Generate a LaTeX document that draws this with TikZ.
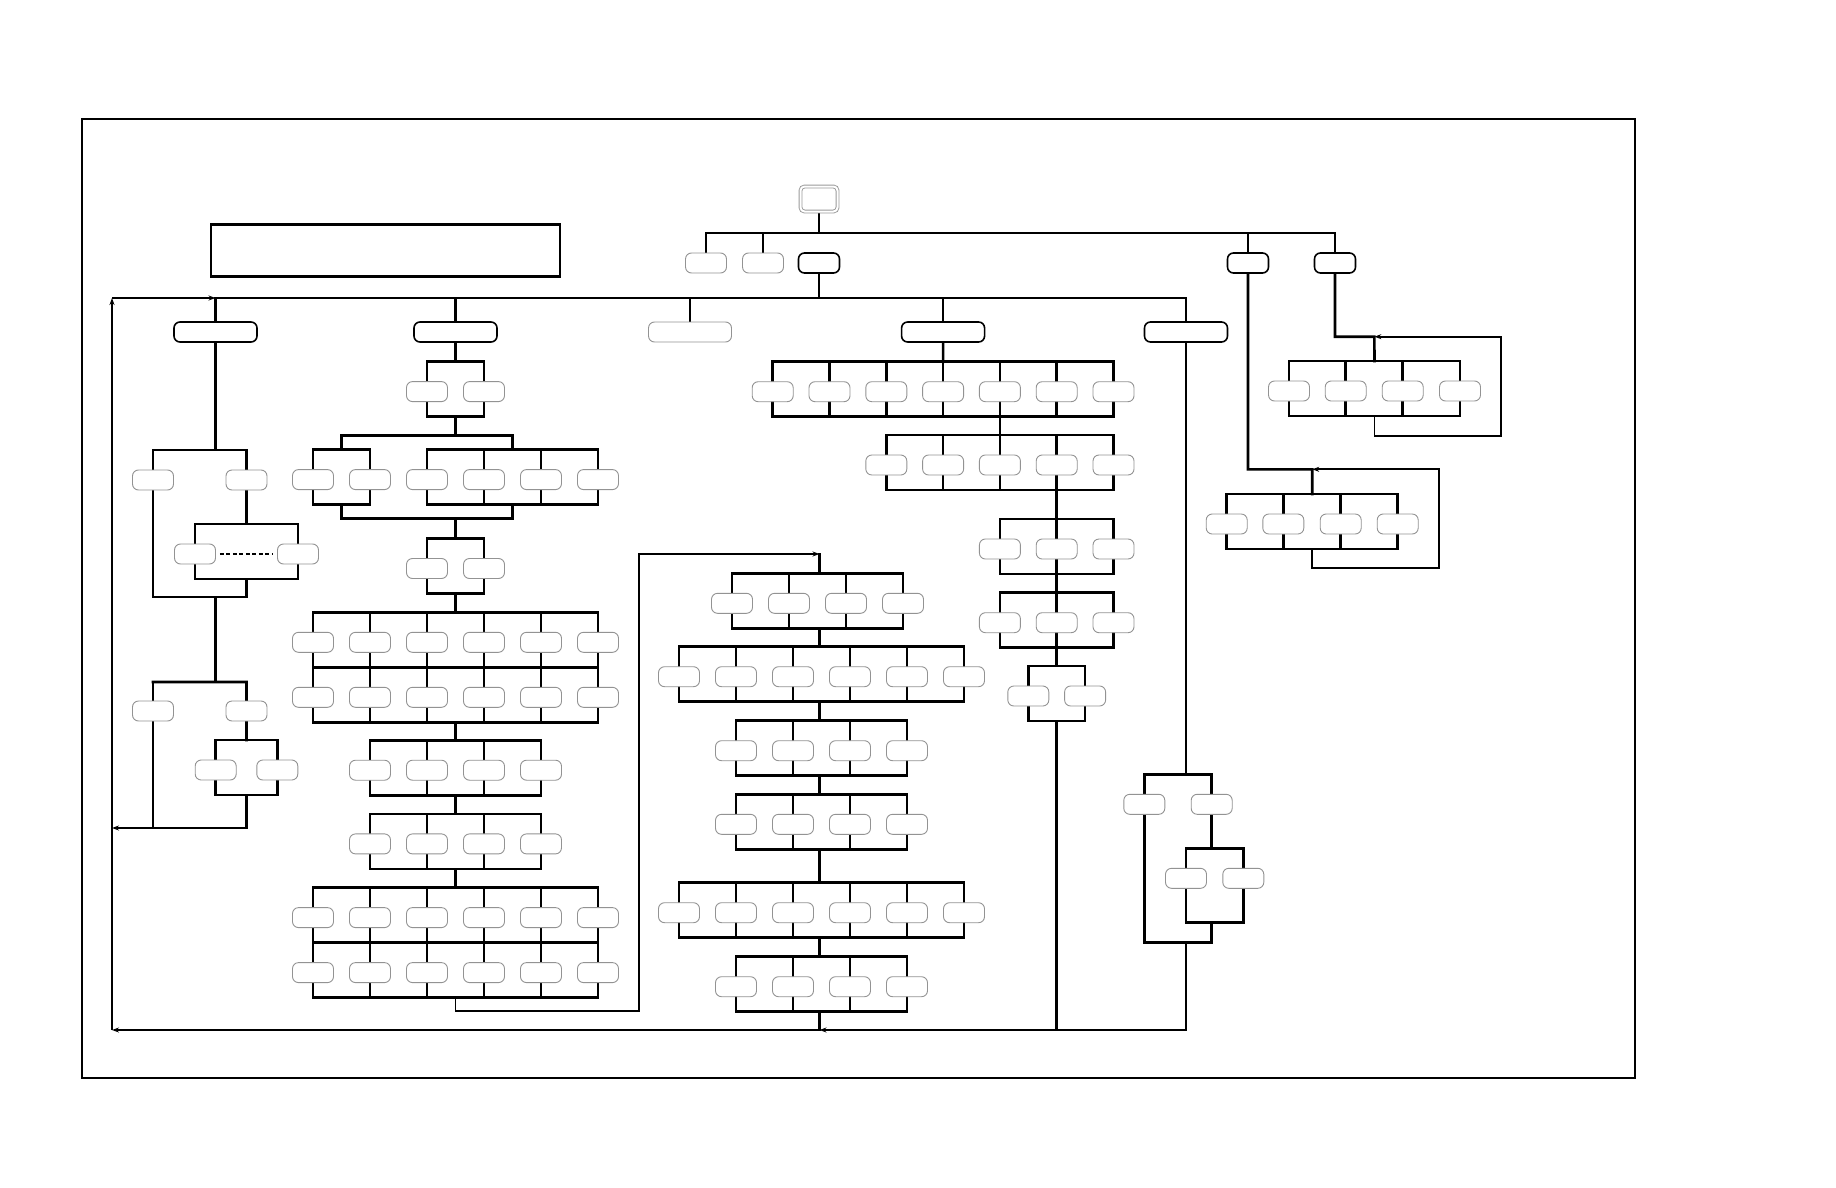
\documentclass[tikz,border=0pt]{standalone}
\usetikzlibrary{positioning,calc,backgrounds,arrows.meta}

\tikzset{
  key/.style={draw=gray!85, line width=0.9pt, fill=white, rounded corners=6pt, minimum width=41pt, minimum height=20pt, inner sep=0pt},
  menu/.style={key, draw=black, line width=1.6pt},
  wide/.style={menu, minimum width=83pt},
  bus/.style={line width=2.6pt, line cap=rect},
  back/.style={line width=1.8pt},
  tip/.style={-{Stealth[length=7pt,width=5pt]}},
}

% a row of keys: prefix, y, x list
\newcommand\keyrow[3]{\foreach \x [count=\i] in {#3} {\node[key] (#1\i) at (\x,#2) {};}}
% frame round a row of keys: prefix, number of keys
\newcommand\keyframe[2]{%
  \draw[bus] ($(#11)+(0,-30)$) -- ($(#1#2)+(0,-30)$);
  \draw[bus] ($(#11)+(0,25)$) -- ($(#1#2)+(0,25)$);
  \foreach \i in {1,...,#2} {\draw[bus] ($(#1\i)+(0,-30)$) -- ($(#1\i)+(0,25)$);}
  \coordinate (#1t) at ($(#11)!.5!(#1#2)+(0,-30)$);
  \coordinate (#1b) at ($(#11)!.5!(#1#2)+(0,25)$);
}

\begin{document}
\begin{tikzpicture}[x=1pt,y=-1pt]
  \useasboundingbox (0,0) rectangle (1836,1188);
  \draw[line width=2.2pt] (82,119) rectangle (1635,1078);

  \node[draw, line width=2.2pt, minimum width=349pt, minimum height=52pt, inner sep=0pt] (note) at (385.5,250.5) {};
  \node[draw=gray!80, double=white, double distance=2pt, line width=0.9pt, rounded corners=4pt,
        minimum width=37pt, minimum height=25pt, fill=white] (top) at (819,199) {};

  % main menu
  \node[key]  (u1) at (706,263) {};
  \node[key]  (u2) at (763,263) {};
  \node[menu] (u3) at (819,263) {};
  \node[menu] (u4) at (1248,263) {};
  \node[menu] (u5) at (1335,263) {};
  \node[wide] (w1) at (215.5,332) {};
  \node[wide] (w2) at (455.5,332) {};
  \node[wide, draw=gray!85, line width=0.9pt] (w3) at (690,332) {};
  \node[wide] (w4) at (943.1,332) {};
  \node[wide] (w5) at (1186,332) {};

  % first column
  \keyrow{a}{480}{153,246.5}
  \keyrow{ad}{554}{195,298}
  \keyrow{ae}{711}{153,246.5}
  \keyrow{af}{770}{215.7,277.3}

  % second column
  \keyrow{pa}{391.6}{427,484}
  \keyrow{qa}{479.6}{313,370}
  \keyrow{qb}{479.6}{427,484,541,598}
  \keyrow{pb}{568.5}{427,484}
  \keyrow{ga}{642.3}{313,370,427,484,541,598}
  \keyrow{gb}{697.3}{313,370,427,484,541,598}
  \keyrow{gc}{770.2}{370,427,484,541}
  \keyrow{gd}{843.9}{370,427,484,541}
  \keyrow{ge}{917.6}{313,370,427,484,541,598}
  \keyrow{gf}{972.6}{313,370,427,484,541,598}

  % third column
  \keyrow{ha}{603.3}{732,789,846,903}
  \keyrow{hb}{676.7}{679,736,793,850,907,964}
  \keyrow{hc}{750.7}{736,793,850,907}
  \keyrow{hd}{824.3}{736,793,850,907}
  \keyrow{he}{912.7}{679,736,793,850,907,964}
  \keyrow{hf}{986.7}{736,793,850,907}

  % fourth column
  \keyrow{ka}{391.7}{772.7,829.5,886.3,943.1,999.9,1056.7,1113.5}
  \keyrow{kb}{465}{886.3,943.1,999.9,1056.7,1113.5}
  \keyrow{kc}{549}{999.9,1056.7,1113.5}
  \keyrow{kd}{622.7}{999.9,1056.7,1113.5}
  \keyrow{ke}{696}{1028.3,1085.1}

  % fifth column
  \keyrow{ma}{804.3}{1144.3,1211.7}
  \keyrow{mb}{878.3}{1186,1243.3}

  % right hand side
  \keyrow{ra}{391}{1289,1345.7,1402.7,1460}
  \keyrow{rb}{524}{1226.7,1283.3,1340.7,1397.7}

  \coordinate (t1) at (819,233);
  \coordinate (l1) at (215.5,450);
  \coordinate (l2) at (215.5,597);
  \coordinate (l3) at (215.5,682);
  \coordinate (l4) at (112,828);
  \coordinate (l5) at (112,1030);
  \coordinate (l6) at (112,298);
  \coordinate (l7) at (215.5,298);
  \coordinate (m1) at (455.5,435.4);
  \coordinate (m2) at (455.5,518.7);
  \coordinate (k1) at (455.5,1011.3);
  \coordinate (k2) at (639,554);
  \coordinate (k3) at (819.5,554);
  \coordinate (k4) at (819.5,1030);
  \coordinate (k5) at (1056.7,1030);
  \coordinate (n1) at (1186,774.3);
  \coordinate (n2) at (1186,942.7);
  \coordinate (n3) at (1186,1030);
  \coordinate (n4) at (1211.7,848.7);
  \coordinate (n5) at (1211.7,922.7);
  \coordinate (r1) at (1374.35,336.7);
  \coordinate (r2) at (1501,435.7);
  \coordinate (r3) at (1312.2,469.3);
  \coordinate (r4) at (1439,568.3);

  \begin{pgfonlayer}{background}
    \keyframe{ad}{2} \keyframe{af}{2}
    \keyframe{pa}{2} \keyframe{qa}{2} \keyframe{qb}{4} \keyframe{pb}{2}
    \keyframe{ga}{6} \keyframe{gb}{6} \keyframe{gc}{4} \keyframe{gd}{4}
    \keyframe{ge}{6} \keyframe{gf}{6}
    \keyframe{ha}{4} \keyframe{hb}{6} \keyframe{hc}{4} \keyframe{hd}{4}
    \keyframe{he}{6} \keyframe{hf}{4}
    \keyframe{ka}{7} \keyframe{kb}{5} \keyframe{kc}{3} \keyframe{kd}{3} \keyframe{ke}{2}
    \keyframe{ra}{4} \keyframe{rb}{4}

    \draw[bus] (top) -- (t1);
    \draw[bus] (u1 |- t1) -- (u5 |- t1);
    \foreach \n in {u1,u2,u4,u5} {\draw[bus] (\n) -- (\n |- t1);}
    \draw[bus] (u3) -- (u3 |- l7);
    \draw[bus] (l7) -- (w5 |- l7);
    \foreach \n in {w1,w2,w3,w4,w5} {\draw[bus] (\n) -- (\n |- l7);}

    \draw[bus] (w1) -- (l1);
    \draw[bus] (a1 |- l1) -- (a2 |- l1) -- (adt);
    \draw[bus] (a1 |- l1) -- (a1 |- l2) -- (a2 |- l2) -- (adb);
    \draw[line width=1.6pt, dash pattern=on 4pt off 2.5pt, shorten <=4pt, shorten >=4pt] (ad1) -- (ad2);
    \draw[bus] (l2) -- (l3);
    \draw[bus] (ae1 |- l3) -- (ae2 |- l3) -- (aft);
    \draw[bus] (ae1 |- l3) -- (ae1 |- l4);
    \draw[bus,tip] (afb) -- (afb |- l4) -- (l4);

    \draw[bus] (w2) -- (pat);
    \draw[bus] (pab) -- (m1);
    \draw[bus] (qat) -- (qat |- m1) -- (qbt |- m1) -- (qbt);
    \draw[bus] (qab) -- (qab |- m2) -- (qbb |- m2) -- (qbb);
    \draw[bus] (m2) -- (pbt);
    \draw[bus] (pbb) -- (gat);
    \draw[bus] (gbb) -- (gct);
    \draw[bus] (gcb) -- (gdt);
    \draw[bus] (gdb) -- (get);
    \draw[back,tip] (gfb) -- (k1) -| (k2) -- (k3);

    % third column spine, between the frames
    \draw[bus] (k3) -- (k3 |- hat);
    \foreach \p/\q in {hab/hbt, hbb/hct, hcb/hdt, hdb/het, heb/hft} {\draw[bus] (k3 |- \p) -- (k3 |- \q);}
    \draw[bus] (k3 |- hfb) -- (k4);

    \draw[bus] (w4) -- (kat);
    \draw[bus] (ka5) -- (kbt);
    \draw[bus] (kb4) -- (kct);
    \draw[bus] (kcb) -- (kdt);
    \draw[bus] (kdb) -- (ket);
    \draw[bus] (keb) -- (k5);

    \draw[bus] (w5) -- (n1);
    \draw[bus] (ma1 |- n1) -- (ma2 |- n1) -- (n4);
    \draw[bus] (mb1 |- n4) rectangle (mb2 |- n5);
    \draw[bus] (n5) -- (ma2 |- n2) -- (ma1 |- n2) -- (ma1 |- n1);
    \draw[bus] (n2) -- (n3);

    \draw[back,tip] (n3) -- (k4);
    \draw[back,tip] (k4) -- (l5);
    \draw[back,tip] (l5) -- (l6);
    \draw[back,tip] (l6) -- (l7);

    \draw[bus] (u5) |- (r1) -- (rat);
    \draw[back,tip] (rab) |- (r2) |- (r1);
    \draw[bus] (u4) |- (r3) -- (rbt);
    \draw[back,tip] (rbb) |- (r4) |- (r3);
  \end{pgfonlayer}
\end{tikzpicture}
\end{document}
